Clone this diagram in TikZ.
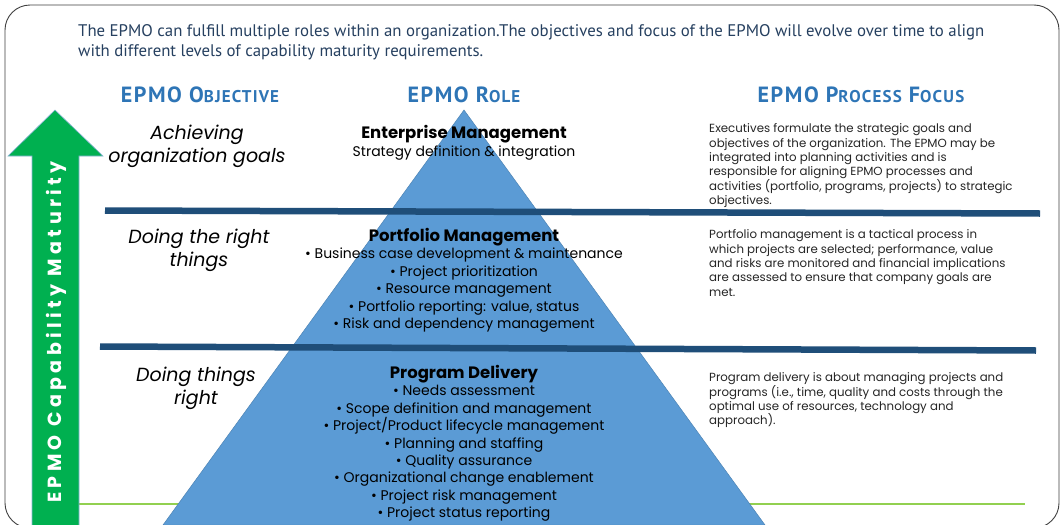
\documentclass[tikz,border=0pt]{standalone}
\usepackage{fontspec}
\setmainfont{Poppins}
\newfontfamily\gillfont{PT Sans}
\newfontfamily\headfont[LetterSpace=7]{PT Sans}
\newfontfamily\spacedfont[LetterSpace=23]{Poppins}
\usetikzlibrary{positioning}

\definecolor{epmoblue}{RGB}{46,117,182}
\definecolor{pyrblue}{RGB}{91,155,213}
\definecolor{bandblue}{RGB}{31,78,121}
\definecolor{arrowgreen}{RGB}{0,176,80}
\definecolor{lightgreen}{RGB}{146,208,80}
\definecolor{introtext}{RGB}{38,64,96}
\definecolor{bodytext}{RGB}{38,38,38}

\tikzset{
  header/.style={anchor=base, text=epmoblue, font=\headfont\bfseries\fontsize{22}{24}\selectfont},
  goal/.style={align=center, inner sep=0pt, font=\itshape\fontsize{19}{23}\selectfont},
  role/.style={align=center, inner sep=0pt, font=\fontsize{14}{17.4}\selectfont},
  focus/.style={anchor=north west, align=left, inner sep=0pt, text=bodytext,
    font=\fontsize{11.8}{14.4}\selectfont},
  band/.style={bandblue, line width=6.5pt}
}
\newcommand{\smc}[2]{#1{\fontsize{17}{18}\selectfont #2}}

\begin{document}
\begin{tikzpicture}[x=1pt, y=-1pt]
    \useasboundingbox (0,0) rectangle (1061,525);
    \clip (0,0) rectangle (1061,525);
    \fill[white] (0,0) rectangle (1061,525);

    % Marco
    \draw[black!75, line width=0.9pt, rounded corners=25pt] (5,5) rectangle (1059,528);

    % Texto de introduccion
    \node[anchor=north west, align=left, inner sep=0pt, text=introtext,
      font=\gillfont\fontsize{16.8}{20}\selectfont] (intro) at (78,24)
      {The EPMO can fulfill multiple roles within an organization.The objectives and focus of the EPMO will evolve over time to align\\
       with different levels of capability maturity requirements.};

    % Encabezados
    \node[header] (hobj) at (200,102) {\smc{EPMO O}{BJECTIVE}};
    \node[header] (hrole) at (464,102) {\smc{EPMO R}{OLE}};
    \node[header] (hfocus) at (861,102) {\smc{EPMO P}{ROCESS} \smc{F}{OCUS}};

    % Linea verde inferior
    \draw[lightgreen, line width=1.2pt] (78,504) -- (1025,504);

    % Flecha de madurez
    \draw[fill=arrowgreen, draw=epmoblue!55, line width=0.6pt]
      (55,110) -- (103,156) -- (79,156) -- (79,540) -- (32,540) -- (32,156) -- (8,156) -- cycle;
    \node[rotate=90, text=white, font=\spacedfont\bfseries\fontsize{19}{22}\selectfont]
      (maturity) at (56,332) {EPMO\hspace{0.45em}Capability\hspace{0.45em}Maturity};

    % Piramide
    \draw[fill=pyrblue, draw=pyrblue!85!black, line width=0.5pt]
      (464,110) -- (765,525) -- (163,525) -- cycle;

    % Bandas
    \draw[band] (105,210.5) -- (1040,213.5);
    \draw[band] (100,346.5) -- (1036,350.5);

    % Objetivos
    \node[goal] (g1) at (197,146) {Achieving\\organization goals};
    \node[goal] (g2) at (199,250) {Doing the right\\things};
    \node[goal] (g3) at (196,388) {Doing things\\right};

    % Roles
    \node[role, font=\bfseries\fontsize{16.5}{19}\selectfont] (enterprise) at (464,134) {Enterprise Management};
    \node[role, below=3pt of enterprise] (strategy) {Strategy definition \& integration};
    \node[role, anchor=north] (portfolio) at (464,228)
      {{\bfseries\fontsize{16.5}{19}\selectfont Portfolio Management}\\
       • Business case development \& maintenance\\
       • Project prioritization\\
       • Resource management\\
       • Portfolio reporting: value, status\\
       • Risk and dependency management};
    \node[role, anchor=north] (program) at (464,365)
      {{\bfseries\fontsize{16.5}{19}\selectfont Program Delivery}\\
       • Needs assessment\\
       • Scope definition and management\\
       • Project/Product lifecycle management\\
       • Planning and staffing\\
       • Quality assurance\\
       • Organizational change enablement\\
       • Project risk management\\
       • Project status reporting};

    % Enfoque de procesos
    \node[focus] (f1) at (709,123.5)
      {Executives formulate the strategic goals and\\
       objectives of the organization. The EPMO may be\\
       integrated into planning activities and is\\
       responsible for aligning EPMO processes and\\
       activities (portfolio, programs, projects) to strategic\\
       objectives.};
    \node[focus] (f2) at (709,229.5)
      {Portfolio management is a tactical process in\\
       which projects are selected; performance, value\\
       and risks are monitored and financial implications\\
       are assessed to ensure that company goals are\\
       met.};
    \node[focus] (f3) at (709,372.5)
      {Program delivery is about managing projects and\\
       programs (i.e., time, quality and costs through the\\
       optimal use of resources, technology and\\
       approach).};
\end{tikzpicture}
\end{document}
